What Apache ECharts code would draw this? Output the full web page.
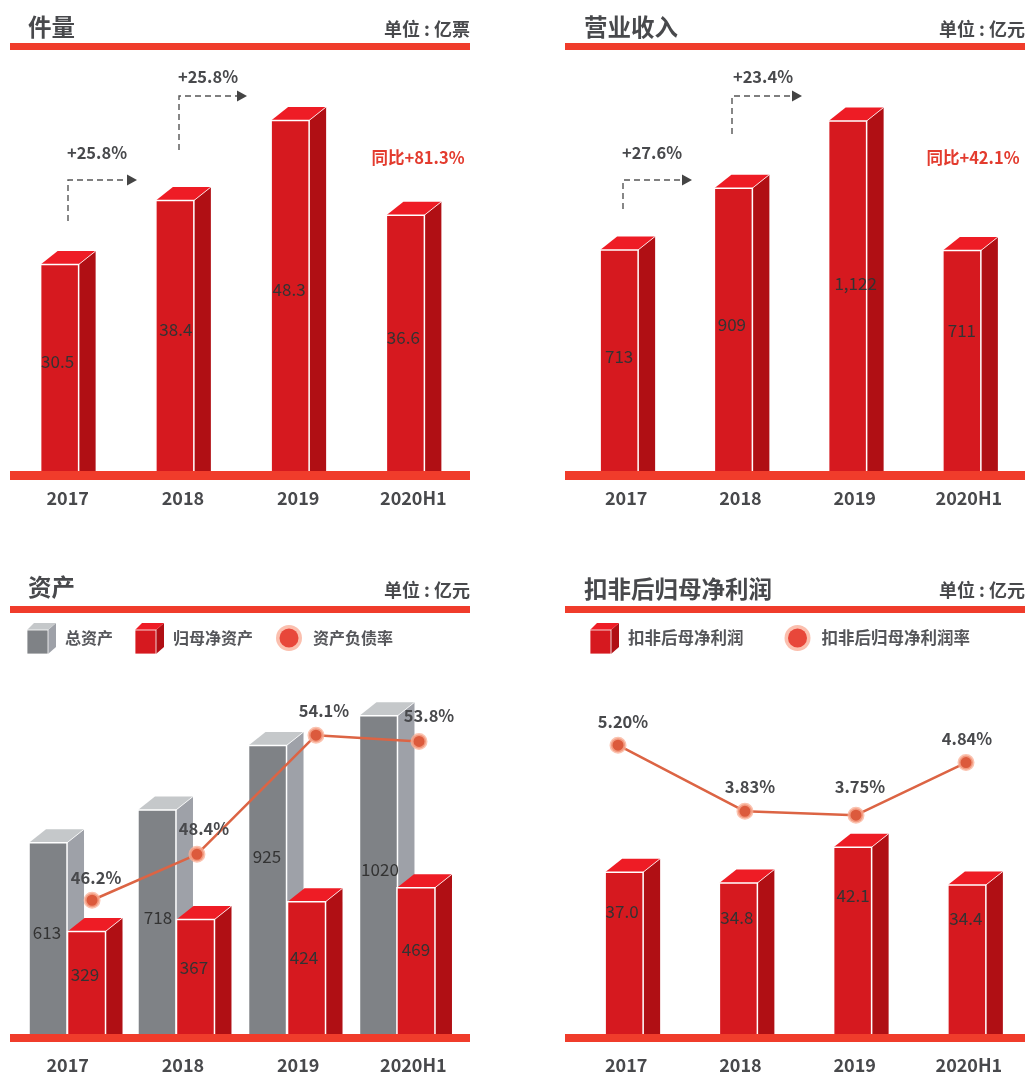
<!DOCTYPE html>
<html><head><meta charset="utf-8">
<style>html,body{margin:0;padding:0;background:#fff}#c{width:1026px;height:1074px}</style>
<script src="https://cdn.jsdelivr.net/npm/echarts@6/dist/echarts.min.js"></script>
</head><body><div id="c"></div>
<script>
// ---- data ----
const periods = ['2017','2018','2019','2020H1'];
const parcels = [30.5,38.4,48.3,36.6];
const revenue = [713,909,1122,711];
const totalAssets = [613,718,925,1020];
const netAssets = [329,367,424,469];
const debtRatio = [46.2,48.4,54.1,53.8];
const adjProfit = [37.0,34.8,42.1,34.4];
const adjProfitRate = [5.20,3.83,3.75,4.84];

// ---- style ----
const FONT = '"Noto Sans CJK SC","Noto Sans",sans-serif';
const RED = {front:'#d6191f', side:'#b00f14', top:'#ee1c25'};
const GRAY = {front:'#7f8286', side:'#9ea1a8', top:'#c5c8ca'};
const RULE = '#f03c2b', INK = '#48494c';
const W = 38, DX = 17, DY = 13.5;

function bar3d(c, shift, ldx, ldy, fmt){
  return function(params, api){
    const i = api.value(0), idx = params.dataIndexInside;
    const p = api.coord([i, api.value(1)]);
    const base = params.coordSys.y + params.coordSys.height;
    const l = p[0] + shift[idx] - W/2, r = l + W, t = p[1];
    const white = {stroke:'#fff', lineWidth:1.5, fill:null};
    return {type:'group', children:[
      {type:'polygon', shape:{points:[[r,t],[r+DX,t-DY],[r+DX,base],[r,base]]}, style:{fill:c.side}},
      {type:'polygon', shape:{points:[[l,t],[l+DX,t-DY],[r+DX,t-DY],[r,t]]}, style:{fill:c.top}},
      {type:'rect', shape:{x:l,y:t,width:W,height:base-t}, style:{fill:c.front}},
      {type:'polyline', shape:{points:[[l,base],[l,t],[r,t],[r,base]]}, style:white},
      {type:'line', shape:{x1:r,y1:t,x2:r+DX,y2:t-DY}, style:{stroke:'#fff',lineWidth:1,opacity:.8}},
      {type:'text', z2:10, style:{text:fmt(api.value(1)), x:(l+r)/2+ldx[idx], y:(t+base)/2+ldy[idx],
        textAlign:'center', textVerticalAlign:'middle', fontSize:17, fontFamily:FONT, fill:'#333'}}
    ]};
  };
}
function barSeries(name, values, gi, c, shift, ldx, ldy, fmt){
  return {name, type:'custom', xAxisIndex:gi===2?2:gi===3?4:gi, yAxisIndex:gi===2?2:gi===3?4:gi,
    encode:{x:0,y:1}, data:values.map((v,i)=>[i,v]), clip:false, z:2,
    renderItem:bar3d(c,shift,ldx,ldy,fmt)};
}
function lineSeries(name, values, shift, xi, yi, fmt, off){
  return {name, type:'line', xAxisIndex:xi, yAxisIndex:yi, z:5,
    data:values.map((v,i)=>({value:[i+shift[i],v],
      label:{show:true,position:'top',offset:off[i],formatter:fmt(v),fontSize:16.5,fontWeight:'bold',fontFamily:FONT,color:INK}})),
    lineStyle:{color:'#dc6444',width:2.5}, symbol:'circle', symbolSize:14,
    itemStyle:{color:'#dc5a3c',borderColor:'rgba(250,175,150,.75)',borderWidth:3}, clip:false};
}
function cat(gi, margin){
  return {type:'category', gridIndex:gi, data:periods, boundaryGap:true,
    axisLine:{show:false}, axisTick:{show:false},
    axisLabel:{margin, fontSize:18, fontWeight:'bold', fontFamily:FONT, color:INK}};
}
function hiddenVal(gi,min,max){ return {type:'value',gridIndex:gi,min,max,show:false,splitLine:{show:false}}; }
function hiddenBand(gi){ return {type:'value',gridIndex:gi,min:-0.5,max:3.5,show:false,splitLine:{show:false}}; }
function icon(svg){ return 'image://data:image/svg+xml;charset=utf-8,'+encodeURIComponent('<svg xmlns="http://www.w3.org/2000/svg" width="90" height="96" viewBox="0 0 30 32">'+svg+'</svg>'); }
function cube(c){ return icon(
  `<polygon points="22,8 30,1 30,25 22,32" fill="${c.side}"/><polygon points="1,8 8,1 30,1 22,8" fill="${c.top}"/><rect x="1" y="8" width="21" height="24" fill="${c.front}" stroke="#fff" stroke-width=".8"/>`); }
const dot = icon('<circle cx="15" cy="16" r="13" fill="#fbbfae"/><circle cx="15" cy="16" r="9.5" fill="#e8473a"/>');

function rect(x,y,w,h,fill){ return {type:'rect',silent:true,z:1,shape:{x,y,width:w,height:h},style:{fill}}; }
function txt(text,x,y,size,align,fill,weight){ return {type:'text',silent:true,z:6,style:{text,x,y,fontSize:size,fontWeight:weight||500,fontFamily:FONT,fill,textAlign:align,textVerticalAlign:'middle'}}; }
function arrow(x,y0,y1,x1,label,lx,ly){
  return [
    {type:'polyline',silent:true,z:6,shape:{points:[[x,y0],[x,y1],[x1,y1]]},style:{stroke:'#555',lineWidth:1.4,lineDash:[6,4],fill:null}},
    {type:'polygon',silent:true,z:6,shape:{points:[[x1,y1-5.5],[x1+10,y1],[x1,y1+5.5]]},style:{fill:'#444'}},
    txt(label,lx,ly,16.5,'center',INK,'bold')
  ];
}
const legendText = size => ({fontSize:size,fontFamily:FONT,fontWeight:'bold',color:'#55565a',padding:[0,0,0,4]});
const same = v => [v,v,v,v];
const option = {
  animation:false, backgroundColor:'#fff',
  grid:[
    {left:10,top:50,width:461,height:421},
    {left:569,top:50,width:457,height:421},
    {left:10,top:680,width:461,height:354},
    {left:569,top:680,width:457,height:354}
  ],
  xAxis:[cat(0,18),cat(1,18),cat(2,22),hiddenBand(2),cat(3,22),hiddenBand(3)],
  yAxis:[hiddenVal(0,5,57),hiddenVal(1,12,1347),hiddenVal(2,0,1135),hiddenVal(2,39.8,56.74),hiddenVal(3,4,76.2),hiddenVal(3,-0.78,6.55)],
  legend:[
    {left:26,top:622,padding:0,itemWidth:30,itemHeight:32,itemGap:21,selectedMode:false,textStyle:legendText(16),
     data:[{name:'总资产',icon:cube(GRAY)},{name:'归母净资产',icon:cube(RED)},{name:'资产负债率',icon:dot}]},
    {left:589,top:622,padding:0,itemWidth:30,itemHeight:32,itemGap:39,selectedMode:false,textStyle:legendText(16.5),
     data:[{name:'扣非后母净利润',icon:cube(RED)},{name:'扣非后归母净利润率',icon:dot}]}
  ],
  series:[
    barSeries('件量',parcels,0,RED,same(-8),[-2,1,-1,-2],same(-6),v=>v.toFixed(1)),
    barSeries('营业收入',revenue,1,RED,same(-7),[0,-1.5,8,0],[-4,-5,-12,-30],v=>v.toLocaleString('en-US')),
    barSeries('总资产',totalAssets,2,GRAY,[-19.6,-25.9,-30.6,-34.9],[-1,1,-.5,1.5],[-5.5,-4,-33,-5],v=>String(v)),
    barSeries('归母净资产',netAssets,2,RED,[18.9,12.6,8.4,2.6],[-1.5,-1.5,-2.5,0],[-8,-9,-10,-11],v=>String(v)),
    lineSeries('资产负债率',debtRatio,[.212,.122,.155,.049],3,3,v=>v.toFixed(1)+'%',[[4,-1],[7,-4],[8,-3],[10,-4]]),
    barSeries('扣非后母净利润',adjProfit,3,RED,same(-2),[-2,-1.5,.5,-1],[-42,-41,-45,-41],v=>v.toFixed(1)),
    lineSeries('扣非后归母净利润率',adjProfitRate,[-.071,.04,.012,-.025],5,5,v=>v.toFixed(2)+'%',[[5,-2],[5,-3],[4,-7],[1,-2]])
  ],
  graphic:[
    rect(10,43,460,7,RULE), rect(565,43,460,7,RULE), rect(10,606,460,7,RULE), rect(565,606,460,7,RULE),
    rect(10,471,460,9,RULE), rect(565,471,460,9,RULE), rect(10,1034,460,8,RULE), rect(565,1034,460,8,RULE),
    txt('件量',28,27,23.5,'left',INK,'bold'), txt('营业收入',584,27,23.5,'left',INK,'bold'),
    txt('资产',28,587,23.5,'left',INK,'bold'), txt('扣非后归母净利润',584,589,23.5,'left',INK,'bold'),
    txt('单位 : 亿票',470,29,18,'right',INK,'bold'), txt('单位 : 亿元',1025,29,18,'right',INK,'bold'),
    txt('单位 : 亿元',470,590,18,'right',INK,'bold'), txt('单位 : 亿元',1025,590,18,'right',INK,'bold'),
    txt('同比+81.3%',418,158,16.5,'center','#e33b2e','bold'), txt('同比+42.1%',973,158,16.5,'center','#e33b2e','bold'),
    ...arrow(68,221,180,127,'+25.8%',97,153), ...arrow(179,150,96,237,'+25.8%',208,77),
    ...arrow(623,209,180,682,'+27.6%',652,153), ...arrow(732,134,96,792,'+23.4%',763,77)
  ]
};
echarts.init(document.getElementById('c')).setOption(option);
</script></body></html>
